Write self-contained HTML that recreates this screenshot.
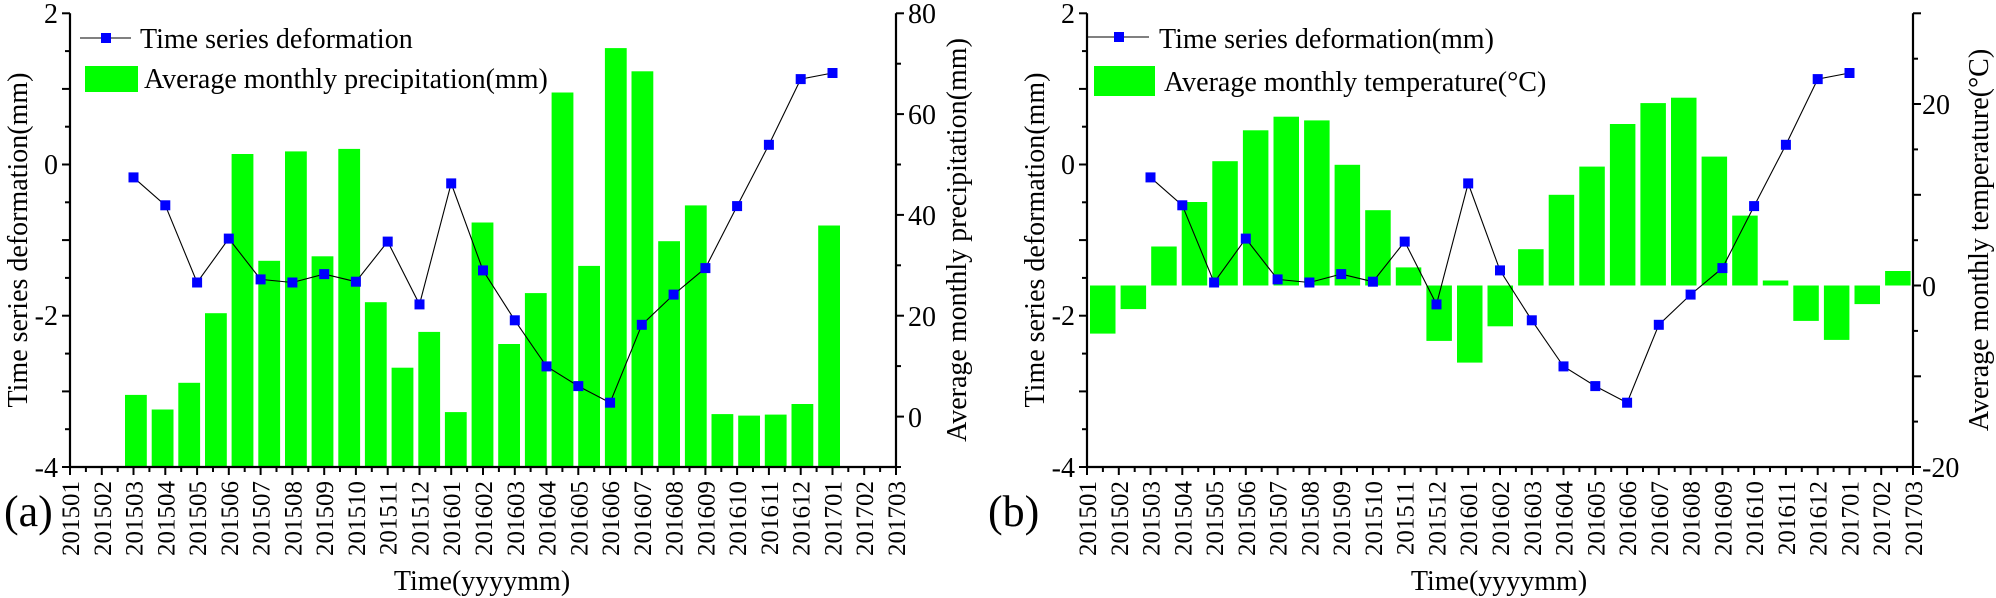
<!DOCTYPE html>
<html><head><meta charset="utf-8"><style>
html,body{margin:0;padding:0;background:#fff;}
svg, svg text{font-family:"Liberation Serif","Times New Roman",serif;}
</style></head><body>
<svg width="1996" height="598" viewBox="0 0 1996 598" xmlns="http://www.w3.org/2000/svg" font-family="Liberation Serif, serif" style="display:block">
<g fill="#00ff00">
<rect x="125" y="394.9" width="21.8" height="72.1"/>
<rect x="151.7" y="409.5" width="21.8" height="57.5"/>
<rect x="178.3" y="382.8" width="21.8" height="84.2"/>
<rect x="205" y="313.2" width="21.8" height="153.8"/>
<rect x="231.6" y="154" width="21.8" height="313"/>
<rect x="258.3" y="260.8" width="21.8" height="206.2"/>
<rect x="285" y="151.4" width="21.8" height="315.6"/>
<rect x="311.6" y="256.3" width="21.8" height="210.7"/>
<rect x="338.3" y="148.9" width="21.8" height="318.1"/>
<rect x="364.9" y="302.2" width="21.8" height="164.8"/>
<rect x="391.6" y="367.7" width="21.8" height="99.3"/>
<rect x="418.3" y="331.9" width="21.8" height="135.1"/>
<rect x="444.9" y="412.1" width="21.8" height="54.9"/>
<rect x="471.6" y="222.5" width="21.8" height="244.5"/>
<rect x="498.2" y="344" width="21.8" height="123"/>
<rect x="524.9" y="293.1" width="21.8" height="173.9"/>
<rect x="551.6" y="92.5" width="21.8" height="374.5"/>
<rect x="578.2" y="265.9" width="21.8" height="201.1"/>
<rect x="604.9" y="48.1" width="21.8" height="418.9"/>
<rect x="631.5" y="71.3" width="21.8" height="395.7"/>
<rect x="658.2" y="241.2" width="21.8" height="225.8"/>
<rect x="684.9" y="205.4" width="21.8" height="261.6"/>
<rect x="711.5" y="414.1" width="21.8" height="52.9"/>
<rect x="738.2" y="415.6" width="21.8" height="51.4"/>
<rect x="764.8" y="414.6" width="21.8" height="52.4"/>
<rect x="791.5" y="404" width="21.8" height="63"/>
<rect x="818.2" y="225.5" width="21.8" height="241.5"/>
</g>
<g fill="#00ff00">
<rect x="1090" y="285.5" width="25.5" height="48.1"/>
<rect x="1120.6" y="285.5" width="25.5" height="23.6"/>
<rect x="1151.2" y="246.5" width="25.5" height="39"/>
<rect x="1181.7" y="202" width="25.5" height="83.5"/>
<rect x="1212.3" y="161.2" width="25.5" height="124.3"/>
<rect x="1242.9" y="130.3" width="25.5" height="155.2"/>
<rect x="1273.5" y="116.7" width="25.5" height="168.8"/>
<rect x="1304.1" y="120.4" width="25.5" height="165.1"/>
<rect x="1334.6" y="164.8" width="25.5" height="120.7"/>
<rect x="1365.2" y="210.2" width="25.5" height="75.3"/>
<rect x="1395.8" y="267.4" width="25.5" height="18.1"/>
<rect x="1426.4" y="285.5" width="25.5" height="55.4"/>
<rect x="1457" y="285.5" width="25.5" height="77.1"/>
<rect x="1487.5" y="285.5" width="25.5" height="40.8"/>
<rect x="1518.1" y="249.2" width="25.5" height="36.3"/>
<rect x="1548.7" y="194.8" width="25.5" height="90.7"/>
<rect x="1579.3" y="166.6" width="25.5" height="118.9"/>
<rect x="1609.9" y="124" width="25.5" height="161.5"/>
<rect x="1640.4" y="103.1" width="25.5" height="182.4"/>
<rect x="1671" y="97.7" width="25.5" height="187.8"/>
<rect x="1701.6" y="156.6" width="25.5" height="128.9"/>
<rect x="1732.2" y="215.6" width="25.5" height="69.9"/>
<rect x="1762.8" y="280.5" width="25.5" height="5"/>
<rect x="1793.3" y="285.5" width="25.5" height="35.4"/>
<rect x="1823.9" y="285.5" width="25.5" height="54.4"/>
<rect x="1854.5" y="285.5" width="25.5" height="18.6"/>
<rect x="1885.1" y="271" width="25.5" height="14.5"/>
</g>

<g id="ca" font-family="Liberation Serif, serif">
<g stroke="#000" stroke-width="2.2" fill="none">
<line x1="70" y1="13.3" x2="70" y2="468"/>
<line x1="896" y1="13.3" x2="896" y2="468"/>
<line x1="69" y1="467" x2="897" y2="467"/>
</g>
<g stroke="#000" stroke-width="2">
<line x1="62" y1="13.3" x2="70" y2="13.3"/><line x1="65" y1="51.1" x2="70" y2="51.1"/>
<line x1="62" y1="88.9" x2="70" y2="88.9"/><line x1="65" y1="126.7" x2="70" y2="126.7"/>
<line x1="62" y1="164.5" x2="70" y2="164.5"/><line x1="65" y1="202.3" x2="70" y2="202.3"/>
<line x1="62" y1="240.1" x2="70" y2="240.1"/><line x1="65" y1="277.9" x2="70" y2="277.9"/>
<line x1="62" y1="315.7" x2="70" y2="315.7"/><line x1="65" y1="353.6" x2="70" y2="353.6"/>
<line x1="62" y1="391.4" x2="70" y2="391.4"/><line x1="65" y1="429.2" x2="70" y2="429.2"/>
<line x1="62" y1="467" x2="70" y2="467"/>
</g>
<g font-size="28" text-anchor="end">
<text x="58" y="23">2</text><text x="58" y="174">0</text><text x="58" y="325">-2</text><text x="58" y="477">-4</text>
</g>
<g stroke="#000" stroke-width="2">
<line x1="70" y1="467" x2="70" y2="475"/><line x1="85.9" y1="467" x2="85.9" y2="472"/>
<line x1="101.8" y1="467" x2="101.8" y2="475"/><line x1="117.7" y1="467" x2="117.7" y2="472"/>
<line x1="133.5" y1="467" x2="133.5" y2="475"/><line x1="149.4" y1="467" x2="149.4" y2="472"/>
<line x1="165.3" y1="467" x2="165.3" y2="475"/><line x1="181.2" y1="467" x2="181.2" y2="472"/>
<line x1="197.1" y1="467" x2="197.1" y2="475"/><line x1="213" y1="467" x2="213" y2="472"/>
<line x1="228.8" y1="467" x2="228.8" y2="475"/><line x1="244.7" y1="467" x2="244.7" y2="472"/>
<line x1="260.6" y1="467" x2="260.6" y2="475"/><line x1="276.5" y1="467" x2="276.5" y2="472"/>
<line x1="292.4" y1="467" x2="292.4" y2="475"/><line x1="308.3" y1="467" x2="308.3" y2="472"/>
<line x1="324.2" y1="467" x2="324.2" y2="475"/><line x1="340" y1="467" x2="340" y2="472"/>
<line x1="355.9" y1="467" x2="355.9" y2="475"/><line x1="371.8" y1="467" x2="371.8" y2="472"/>
<line x1="387.7" y1="467" x2="387.7" y2="475"/><line x1="403.6" y1="467" x2="403.6" y2="472"/>
<line x1="419.5" y1="467" x2="419.5" y2="475"/><line x1="435.3" y1="467" x2="435.3" y2="472"/>
<line x1="451.2" y1="467" x2="451.2" y2="475"/><line x1="467.1" y1="467" x2="467.1" y2="472"/>
<line x1="483" y1="467" x2="483" y2="475"/><line x1="498.9" y1="467" x2="498.9" y2="472"/>
<line x1="514.8" y1="467" x2="514.8" y2="475"/><line x1="530.6" y1="467" x2="530.6" y2="472"/>
<line x1="546.5" y1="467" x2="546.5" y2="475"/><line x1="562.4" y1="467" x2="562.4" y2="472"/>
<line x1="578.3" y1="467" x2="578.3" y2="475"/><line x1="594.2" y1="467" x2="594.2" y2="472"/>
<line x1="610.1" y1="467" x2="610.1" y2="475"/><line x1="626" y1="467" x2="626" y2="472"/>
<line x1="641.8" y1="467" x2="641.8" y2="475"/><line x1="657.7" y1="467" x2="657.7" y2="472"/>
<line x1="673.6" y1="467" x2="673.6" y2="475"/><line x1="689.5" y1="467" x2="689.5" y2="472"/>
<line x1="705.4" y1="467" x2="705.4" y2="475"/><line x1="721.3" y1="467" x2="721.3" y2="472"/>
<line x1="737.1" y1="467" x2="737.1" y2="475"/><line x1="753" y1="467" x2="753" y2="472"/>
<line x1="768.9" y1="467" x2="768.9" y2="475"/><line x1="784.8" y1="467" x2="784.8" y2="472"/>
<line x1="800.7" y1="467" x2="800.7" y2="475"/><line x1="816.6" y1="467" x2="816.6" y2="472"/>
<line x1="832.5" y1="467" x2="832.5" y2="475"/><line x1="848.3" y1="467" x2="848.3" y2="472"/>
<line x1="864.2" y1="467" x2="864.2" y2="475"/><line x1="880.1" y1="467" x2="880.1" y2="472"/>
<line x1="896" y1="467" x2="896" y2="475"/>
</g>
<g font-size="25" text-anchor="end">
<text transform="translate(79,481) rotate(-90)">201501</text>
<text transform="translate(110.8,481) rotate(-90)">201502</text>
<text transform="translate(142.5,481) rotate(-90)">201503</text>
<text transform="translate(174.3,481) rotate(-90)">201504</text>
<text transform="translate(206.1,481) rotate(-90)">201505</text>
<text transform="translate(237.8,481) rotate(-90)">201506</text>
<text transform="translate(269.6,481) rotate(-90)">201507</text>
<text transform="translate(301.4,481) rotate(-90)">201508</text>
<text transform="translate(333.2,481) rotate(-90)">201509</text>
<text transform="translate(364.9,481) rotate(-90)">201510</text>
<text transform="translate(396.7,481) rotate(-90)">201511</text>
<text transform="translate(428.5,481) rotate(-90)">201512</text>
<text transform="translate(460.2,481) rotate(-90)">201601</text>
<text transform="translate(492,481) rotate(-90)">201602</text>
<text transform="translate(523.8,481) rotate(-90)">201603</text>
<text transform="translate(555.5,481) rotate(-90)">201604</text>
<text transform="translate(587.3,481) rotate(-90)">201605</text>
<text transform="translate(619.1,481) rotate(-90)">201606</text>
<text transform="translate(650.8,481) rotate(-90)">201607</text>
<text transform="translate(682.6,481) rotate(-90)">201608</text>
<text transform="translate(714.4,481) rotate(-90)">201609</text>
<text transform="translate(746.1,481) rotate(-90)">201610</text>
<text transform="translate(777.9,481) rotate(-90)">201611</text>
<text transform="translate(809.7,481) rotate(-90)">201612</text>
<text transform="translate(841.5,481) rotate(-90)">201701</text>
<text transform="translate(873.2,481) rotate(-90)">201702</text>
<text transform="translate(905,481) rotate(-90)">201703</text>
</g>
<polyline fill="none" stroke="#000" stroke-width="1.1" points="133.5,177.4 165.3,205.3 197.1,282.5 228.8,238.6 260.6,279.4 292.4,282.5 324.2,274.1 355.9,281.7 387.7,241.6 419.5,304.4 451.2,183.4 483,270.4 514.8,320.3 546.5,366.4 578.3,386.1 610.1,402.7 641.8,324.8 673.6,294.6 705.4,268.1 737.1,206.1 768.9,144.8 800.7,79.1 832.5,73"/>
<g fill="#0000ff">
<rect x="128.5" y="172.4" width="10" height="10"/><rect x="160.3" y="200.3" width="10" height="10"/>
<rect x="192.1" y="277.5" width="10" height="10"/><rect x="223.8" y="233.6" width="10" height="10"/>
<rect x="255.6" y="274.4" width="10" height="10"/><rect x="287.4" y="277.5" width="10" height="10"/>
<rect x="319.2" y="269.1" width="10" height="10"/><rect x="350.9" y="276.7" width="10" height="10"/>
<rect x="382.7" y="236.6" width="10" height="10"/><rect x="414.5" y="299.4" width="10" height="10"/>
<rect x="446.2" y="178.4" width="10" height="10"/><rect x="478" y="265.4" width="10" height="10"/>
<rect x="509.8" y="315.3" width="10" height="10"/><rect x="541.5" y="361.4" width="10" height="10"/>
<rect x="573.3" y="381.1" width="10" height="10"/><rect x="605.1" y="397.7" width="10" height="10"/>
<rect x="636.8" y="319.8" width="10" height="10"/><rect x="668.6" y="289.6" width="10" height="10"/>
<rect x="700.4" y="263.1" width="10" height="10"/><rect x="732.1" y="201.1" width="10" height="10"/>
<rect x="763.9" y="139.8" width="10" height="10"/><rect x="795.7" y="74.1" width="10" height="10"/>
<rect x="827.5" y="68" width="10" height="10"/>
</g>
<text x="482" y="590" font-size="28" text-anchor="middle">Time(yyyymm)</text>
<text transform="translate(27,240) rotate(-90)" font-size="28" text-anchor="middle">Time series deformation(mm)</text>
</g>
<use href="#ca" transform="translate(1017,0)"/>

<g stroke="#000" stroke-width="2">
<line x1="896" y1="13.3" x2="904" y2="13.3"/><line x1="896" y1="63.7" x2="901" y2="63.7"/>
<line x1="896" y1="114.1" x2="904" y2="114.1"/><line x1="896" y1="164.5" x2="901" y2="164.5"/>
<line x1="896" y1="214.9" x2="904" y2="214.9"/><line x1="896" y1="265.3" x2="901" y2="265.3"/>
<line x1="896" y1="315.7" x2="904" y2="315.7"/><line x1="896" y1="366.1" x2="901" y2="366.1"/>
<line x1="896" y1="416.6" x2="904" y2="416.6"/><line x1="896" y1="467" x2="901" y2="467"/>
</g>
<g font-size="28">
<text x="908" y="23">80</text><text x="908" y="124">60</text><text x="908" y="225">40</text><text x="908" y="326">20</text><text x="908" y="427">0</text>
</g>
<g stroke="#000" stroke-width="2">
<line x1="1913" y1="13.3" x2="1921" y2="13.3"/><line x1="1913" y1="58.7" x2="1918" y2="58.7"/>
<line x1="1913" y1="104" x2="1921" y2="104"/><line x1="1913" y1="149.4" x2="1918" y2="149.4"/>
<line x1="1913" y1="194.8" x2="1921" y2="194.8"/><line x1="1913" y1="240.2" x2="1918" y2="240.2"/>
<line x1="1913" y1="285.5" x2="1921" y2="285.5"/><line x1="1913" y1="330.9" x2="1918" y2="330.9"/>
<line x1="1913" y1="376.3" x2="1921" y2="376.3"/><line x1="1913" y1="421.6" x2="1918" y2="421.6"/>
<line x1="1913" y1="467" x2="1921" y2="467"/>
</g>
<g font-size="28">
<text x="1922" y="114">20</text><text x="1922" y="296">0</text><text x="1922" y="477">-20</text>
</g>

<line x1="80" y1="38" x2="131" y2="38" stroke="#000" stroke-width="1.1"/><rect x="101" y="33" width="10" height="10" fill="#0000ff"/>
<text x="140" y="48" font-size="28">Time series deformation</text>
<rect x="85" y="66" width="53" height="26" fill="#00ff00"/><text x="144" y="88" font-size="28">Average monthly precipitation(mm)</text>
<line x1="1087" y1="37" x2="1149" y2="37" stroke="#000" stroke-width="1.1"/><rect x="1114" y="32" width="10" height="10" fill="#0000ff"/>
<text x="1159" y="48" font-size="28">Time series deformation(mm)</text>
<rect x="1094" y="66" width="61" height="30" fill="#00ff00"/><text x="1164" y="91" font-size="28">Average monthly temperature(°C)</text>

<text transform="translate(966,240) rotate(-90)" font-size="28" text-anchor="middle">Average monthly precipitation(mm)</text>
<text transform="translate(1988,240) rotate(-90)" font-size="28" text-anchor="middle">Average monthly temperature(°C)</text>
<text x="4" y="526" font-size="44">(a)</text><text x="988" y="526" font-size="44">(b)</text>
</svg>
</body></html>
